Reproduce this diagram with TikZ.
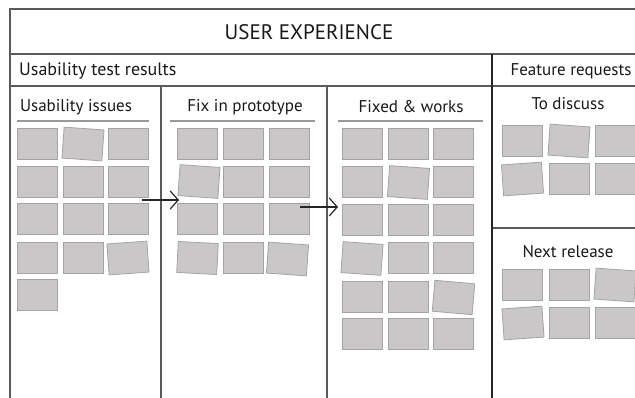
\documentclass[tikz,border=0pt]{standalone}
\usepackage{fontspec}
\setmainfont{PT Sans}
\usetikzlibrary{arrows.meta}
\definecolor{notefill}{HTML}{C9C7C7}
\definecolor{noteedge}{HTML}{A5A3A3}
\definecolor{framecol}{HTML}{5A5A5A}
\tikzset{
 note/.style={draw=noteedge, fill=notefill, line width=0.8pt, minimum width=40pt, minimum height=31pt, inner sep=0pt},
 frameline/.style={draw=framecol, line width=1.2pt},
 heavy/.style={draw=black!85, line width=2.4pt},
 uline/.style={draw=gray!80, line width=2pt},
 lbl/.style={text=black!90, inner sep=0pt, font=\fontsize{17}{17}\selectfont},
 biglbl/.style={text=black!90, inner sep=0pt, font=\fontsize{18}{18}\selectfont},
 titlelbl/.style={text=black!90, inner sep=0pt, font=\fontsize{21}{21}\selectfont},
 flow/.style={draw=black!85, line width=1.2pt, -{Straight Barb[length=8pt,width=18pt]}},
}
\newcommand\stick[4]{\node[note, rotate=#4] (#1) at (#2,#3) {};}
\begin{document}
\begin{tikzpicture}[x=1pt,y=-1pt]
\useasboundingbox (0,0) rectangle (635,397);
\clip (0,0) rectangle (635,397);
\fill[white] (0,0) rectangle (635,397);
% frame
\draw[frameline] (10,400) -- (10,9) -- (640,9);
\draw[frameline] (10,54) -- (640,54);
\draw[frameline] (10,86) -- (640,86);
\draw[frameline] (161,86) -- (161,400);
\draw[frameline] (327,86) -- (327,400);
\draw[frameline] (492,228) -- (640,228);
\draw[heavy] (492,54) -- (492,400);
% labels
\node[titlelbl] (title) at (309,32) {USER EXPERIENCE};
\node[biglbl, anchor=west] (utr) at (19,71) {Usability test results};
\node[lbl] (fr) at (571,71) {Feature requests};
\node[lbl] (ui) at (76,107) {Usability issues};
\node[lbl] (fip) at (245,107) {Fix in prototype};
\node[lbl] (fw) at (411,107) {Fixed \& works};
\node[lbl] (td) at (568,104) {To discuss};
\node[lbl] (nr) at (568,252) {Next release};
% underlines
\draw[uline] (17,121) -- (149,121);
\draw[uline] (170,121) -- (315,121);
\draw[uline] (338,121) -- (483,121);
% column 1: usability issues
\stick{a11}{37}{143.5}{0}
\stick{a12}{83}{144}{-4}
\stick{a13}{128.5}{143.5}{0}
\stick{a21}{37}{181.5}{0}
\stick{a22}{83}{181.5}{0}
\stick{a23}{128.5}{181.5}{0}
\stick{a31}{37}{219}{0}
\stick{a32}{83}{219}{0}
\stick{a33}{128.5}{219}{0}
\stick{a41}{37}{258}{0}
\stick{a42}{83}{258}{0}
\stick{a43}{128}{258}{4}
\stick{a51}{37}{295}{0}
% column 2: fix in prototype
\stick{b11}{197.5}{143.5}{0}
\stick{b12}{243.5}{143.5}{0}
\stick{b13}{289.5}{143.5}{0}
\stick{b21}{199}{181.5}{-4}
\stick{b22}{243.5}{181.5}{0}
\stick{b23}{289.5}{181.5}{0}
\stick{b31}{197.5}{219}{0}
\stick{b32}{243.5}{219}{0}
\stick{b33}{289.5}{219}{0}
\stick{b41}{197.5}{258}{-3}
\stick{b42}{243.5}{258}{0}
\stick{b43}{287.5}{259}{-4}
% column 3: fixed & works
\stick{c11}{362}{144}{0}
\stick{c12}{408}{144}{0}
\stick{c13}{453.5}{144}{0}
\stick{c21}{362}{182}{0}
\stick{c22}{408.5}{182.5}{-4}
\stick{c23}{453.5}{182}{0}
\stick{c31}{362}{220}{0}
\stick{c32}{408}{220}{0}
\stick{c33}{453.5}{220}{0}
\stick{c41}{362}{258.5}{-4}
\stick{c42}{408}{258}{0}
\stick{c43}{453.5}{258}{0}
\stick{c51}{362}{297}{0}
\stick{c52}{408}{297}{0}
\stick{c53}{453.5}{297.5}{-5}
\stick{c61}{362}{334}{0}
\stick{c62}{408}{334}{0}
\stick{c63}{453.5}{334}{0}
% to discuss
\stick{d11}{522.5}{140.5}{0}
\stick{d12}{569}{141}{-4}
\stick{d13}{615}{140.5}{0}
\stick{d21}{522.5}{179}{4}
\stick{d22}{569}{178.5}{0}
\stick{d23}{615}{178.5}{0}
% next release
\stick{e11}{522.5}{284.5}{0}
\stick{e12}{569}{284.5}{0}
\stick{e13}{615}{285}{-4}
\stick{e21}{523}{323}{4}
\stick{e22}{569}{322.5}{0}
\stick{e23}{615}{322.5}{0}
% flow arrows
\coordinate (p1s) at (142,200);
\coordinate (p1e) at (179,200);
\coordinate (p2s) at (300,207);
\coordinate (p2e) at (338,207);
\draw[flow] (p1s) -- (p1e);
\draw[flow] (p2s) -- (p2e);
\end{tikzpicture}
\end{document}
